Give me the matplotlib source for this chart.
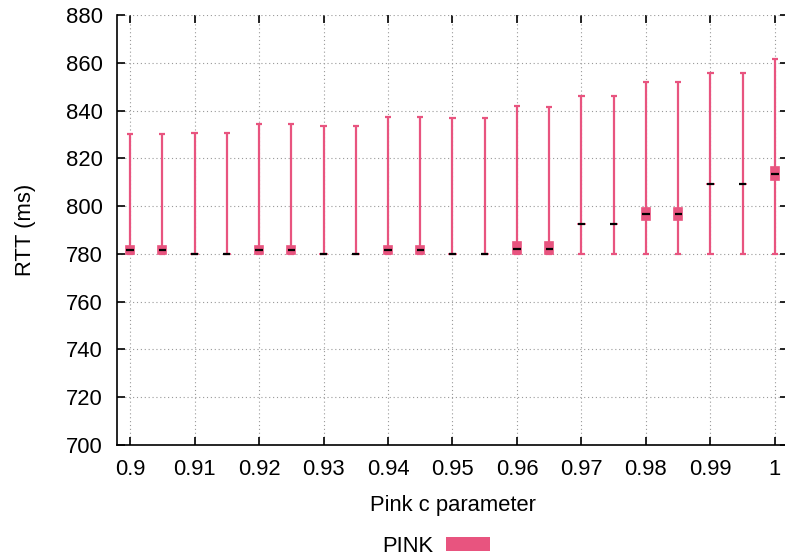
import matplotlib
matplotlib.use('Agg')
import matplotlib.pyplot as plt
import matplotlib.patches as mpatches
import numpy as np

plt.rcParams['font.family'] = 'Liberation Sans'

# Pink c parameter values
c_param = [0.900, 0.905, 0.910, 0.915, 0.920, 0.925, 0.930, 0.935, 0.940, 0.945,
           0.950, 0.955, 0.960, 0.965, 0.970, 0.975, 0.980, 0.985, 0.990, 0.995, 1.000]

rtt_min = [780.0] * 21
rtt_q1 = [780.0, 780.0, 780.0, 780.0, 780.0, 780.0, 780.0, 780.0, 780.0, 780.0,
          780.0, 780.0, 780.0, 780.0, 792.5, 792.5, 794.2, 794.2, 809.3, 809.3, 810.8]
rtt_med = [781.8, 781.8, 780.0, 780.0, 781.8, 781.8, 780.0, 780.0, 781.8, 781.8,
           780.0, 780.0, 782.0, 782.0, 792.5, 792.5, 796.7, 796.7, 809.3, 809.3, 813.4]
rtt_q3 = [783.5, 783.5, 780.0, 780.0, 783.5, 783.5, 780.0, 780.0, 783.5, 783.5,
          780.0, 780.0, 785.0, 785.0, 792.5, 792.5, 799.4, 799.4, 809.3, 809.3, 816.2]
rtt_max = [830.2, 830.2, 830.7, 830.7, 834.5, 834.5, 833.4, 833.4, 837.2, 837.2,
           837.0, 837.0, 841.7, 841.5, 846.2, 846.2, 852.0, 852.0, 855.8, 855.8, 861.6]

xticks = [0.9, 0.91, 0.92, 0.93, 0.94, 0.95, 0.96, 0.97, 0.98, 0.99, 1.0]
xtick_labels = ['0.9', '0.91', '0.92', '0.93', '0.94', '0.95', '0.96', '0.97', '0.98', '0.99', '1']

pink = '#e8547f'
fs = 15.8

fig = plt.figure(figsize=(7.85, 5.59), dpi=100)
ax = fig.add_axes([117 / 785, 1 - 445 / 559, 671 / 785, 430 / 559])

box_w = 0.00125
cap_w = 0.00095
med_w = 0.0011

ax.vlines(c_param, rtt_min, rtt_max, color=pink, linewidth=1.6, zorder=3)
x = np.array(c_param)
ax.hlines(rtt_max, x - cap_w / 2, x + cap_w / 2, color=pink, linewidth=1.6, zorder=3)
ax.hlines(rtt_min, x - cap_w / 2, x + cap_w / 2, color=pink, linewidth=1.6, zorder=3)
heights = np.array(rtt_q3) - np.array(rtt_q1)
ax.bar(c_param, heights, bottom=rtt_q1, width=box_w, color=pink,
       edgecolor=pink, linewidth=1.2, zorder=4)
ax.hlines(rtt_med, x - med_w / 2, x + med_w / 2, color='black', linewidth=1.6, zorder=5)

ax.set_xlim(0.897984, 1.002016)
ax.set_ylim(700, 880)
ax.set_xticks(xticks)
ax.set_xticklabels(xtick_labels)
ax.set_yticks(np.arange(700, 881, 20))

ax.grid(True, color='#999999', linestyle=(0, (1, 2.5)), linewidth=0.8)
ax.set_axisbelow(True)

ax.spines['top'].set_visible(False)
ax.spines['right'].set_visible(False)
ax.spines['left'].set_linewidth(1.2)
ax.spines['bottom'].set_linewidth(1.2)
ax.tick_params(direction='in', top=True, right=True, length=6, width=1.2,
               labelsize=fs)
ax.tick_params(axis='x', pad=10)
ax.tick_params(axis='y', pad=10)

ax.set_xlabel('Pink c parameter', fontsize=fs, labelpad=11)
ax.set_ylabel('RTT (ms)', fontsize=fs, labelpad=22)

handle = mpatches.Rectangle((0, 0), 1, 1, facecolor=pink, edgecolor='none')
fig.legend([handle], ['PINK'], loc='center', bbox_to_anchor=(436 / 785, 1 - 546 / 559),
           frameon=False, fontsize=fs, markerfirst=False, handlelength=2.0,
           handleheight=0.6, handletextpad=0.6)

fig.savefig('out.png', dpi=100)
